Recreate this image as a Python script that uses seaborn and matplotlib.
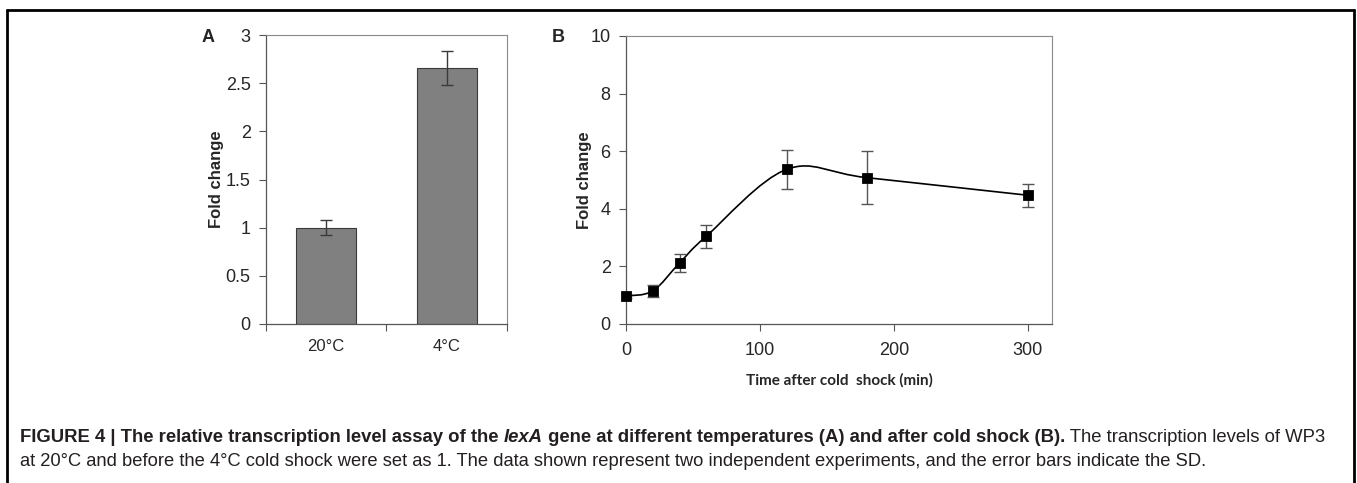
import numpy as np
import pandas as pd
import seaborn as sns
import matplotlib.pyplot as plt
from matplotlib.path import Path
from matplotlib.patches import PathPatch
from matplotlib.lines import Line2D

# panel A data
temps = ["20°C", "4°C"]
fold_a = [1.0, 2.66]
sd_a = [0.075, 0.175]

# panel B data
time_min = [0, 20, 40, 60, 120, 180, 300]
fold_b = [0.97, 1.15, 2.12, 3.05, 5.37, 5.08, 4.47]
sd_b = [0.06, 0.2, 0.3, 0.4, 0.67, 0.93, 0.4]

sns.set_theme(style="white")
plt.rcParams['font.family'] = ['Liberation Sans', 'DejaVu Sans']

fig = plt.figure(figsize=(13.57, 4.83), dpi=100)
axA = fig.add_axes([0.196, 0.3292, 0.1776, 0.5983])
axB = fig.add_axes([0.4613, 0.3292, 0.3139, 0.5963])

# ---- A: bars
df_a = pd.DataFrame({"temp": temps, "fold": fold_a})
sns.barplot(data=df_a, x="temp", y="fold", color="#808080", edgecolor="#3a3a3a",
            linewidth=0.8, width=0.5, saturation=1, errorbar=None, ax=axA)
axA.errorbar(range(len(temps)), fold_a, yerr=sd_a, fmt="none", ecolor="#3a3a3a",
             elinewidth=1, capsize=4, capthick=1)
axA.set_xlim(-0.5, 1.5)
axA.set_ylim(0, 3)
axA.set_yticks(np.arange(0, 3.01, 0.5))
axA.set_yticklabels(["0", "0.5", "1", "1.5", "2", "2.5", "3"])
axA.set_xticks([-0.5, 0.5, 1.5])
axA.set_xticklabels([])
axA.set_xticks([0, 1], minor=True)
axA.set_xticklabels(temps, minor=True)
axA.tick_params(axis="x", which="minor", length=0, pad=11, labelsize=12)
axA.tick_params(axis="x", which="major", length=5, width=0.8, color="#555555", direction="out", bottom=True)
axA.set_xlabel("")
axA.set_ylabel("Fold change", fontsize=12, fontweight="bold", labelpad=1)
axA.text(-0.24, 0.993, "A", transform=axA.transAxes, fontsize=13, fontweight="bold",
         ha="center", va="center")

# ---- B: time course with smoothed line (Catmull-Rom style bezier like Excel)
pts = np.column_stack([time_min, fold_b]).astype(float)
verts = [pts[0]]
codes = [Path.MOVETO]
n = len(pts)
for i in range(n - 1):
    p0 = pts[i - 1] if i > 0 else pts[i]
    p1 = pts[i]
    p2 = pts[i + 1]
    p3 = pts[i + 2] if i + 2 < n else pts[i + 1]
    c1 = p1 + (p2 - p0) / 6.0
    c2 = p2 - (p3 - p1) / 6.0
    verts += [c1, c2, p2]
    codes += [Path.CURVE4] * 3
axB.add_patch(PathPatch(Path(verts, codes), facecolor="none", edgecolor="black", lw=1.2, zorder=2))
axB.errorbar(time_min, fold_b, yerr=sd_b, fmt="none", ecolor="#555555",
             elinewidth=1, capsize=4, capthick=1, zorder=3)
df_b = pd.DataFrame({"time": time_min, "fold": fold_b})
sns.scatterplot(data=df_b, x="time", y="fold", marker="s", s=52, color="black",
                edgecolor="black", ax=axB, zorder=4, clip_on=False)
axB.set_xlim(0, 318)
axB.set_ylim(0, 10)
axB.set_xticks([0, 100, 200, 300])
axB.set_yticks([0, 2, 4, 6, 8, 10])
axB.set_ylabel("Fold change", fontsize=12, fontweight="bold", labelpad=-1)
axB.set_xlabel("Time after cold  shock (min)", fontsize=11, fontweight="bold",
               family=["Lato", "DejaVu Sans"], labelpad=10)
axB.text(-0.16, 0.993, "B", transform=axB.transAxes, fontsize=13, fontweight="bold",
         ha="center", va="center")

for ax in (axA, axB):
    ax.tick_params(axis="y", length=5, width=0.8, color="#555555", direction="out", left=True,
                   labelsize=13, pad=6)
    ax.tick_params(axis="x", which="major", labelsize=13, pad=8)
    for side in ("left", "bottom"):
        ax.spines[side].set_color("#555555")
        ax.spines[side].set_linewidth(0.9)
    for side in ("top", "right"):
        ax.spines[side].set_color("#8a8a8a")
        ax.spines[side].set_linewidth(0.8)
axB.tick_params(axis="x", length=5, width=0.8, color="#555555", direction="out", bottom=True)

# outer frame (open at the bottom)
for xs, ys in [([7, 7], [0, 473]), ([7, 1354], [473, 473]), ([1354, 1354], [473, 0])]:
    fig.add_artist(Line2D([x / 1357 for x in xs], [y / 483 for y in ys], color="black", lw=2))

# caption with mixed bold/italic pieces
line1 = [("FIGURE 4 | The relative transcription level assay of the ", "bold", "normal"),
         ("lexA", "bold", "italic"),
         (" gene at different temperatures (A) and after cold shock (B).", "bold", "normal"),
         (" The transcription levels of WP3", "normal", "normal")]
line2 = "at 20°C and before the 4°C cold shock were set as 1. The data shown represent two independent experiments, and the error bars indicate the SD."
fig.canvas.draw()
renderer = fig.canvas.get_renderer()
x = 20 / 1357
for txt, w, st in line1:
    t = fig.text(x, 1 - 442 / 483, txt, fontsize=13.3, fontweight=w, fontstyle=st,
                 ha="left", va="baseline", color="#231f20")
    bb = t.get_window_extent(renderer)
    x = bb.x1 / 1357
fig.text(20 / 1357, 1 - 466 / 483, line2, fontsize=13.2, ha="left", va="baseline", color="#231f20")

fig.savefig("out.png", dpi=100)
